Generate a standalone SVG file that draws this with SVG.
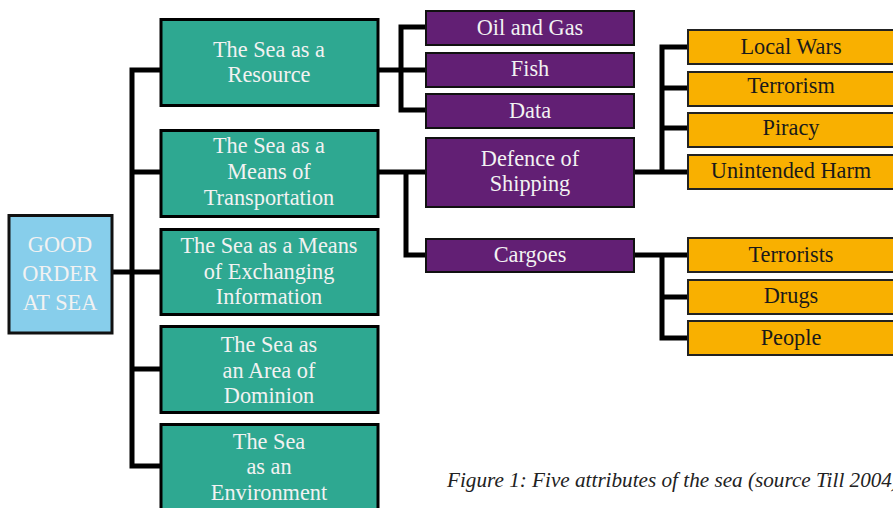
<svg xmlns="http://www.w3.org/2000/svg" width="893" height="508" viewBox="0 0 893 508">
<style>
.c{fill:none;stroke:#000;stroke-width:5;stroke-linecap:square}
.root{fill:#87CEEB;stroke:#111;stroke-width:3}
.g{fill:#2EA891;stroke:#000;stroke-width:3}
.p{fill:#621F74;stroke:#111;stroke-width:2}
.y{fill:#F9B000;stroke:#222;stroke-width:2}
text{font-family:"Liberation Serif","DejaVu Serif",serif;font-size:22.3px;text-anchor:middle}
.lt{fill:#F2F2F2}
.dk{fill:#1a1a1a}
.cap{font-style:italic;font-size:20.5px;text-anchor:start;fill:#222}
</style>
<rect width="893" height="508" fill="#fff"/>
<g id="connectors">
<path class="c" d="M112 272H132M132 70V466M132 70H160M132 172H160M132 272H160M132 369H160M132 466H160"/>
<path class="c" d="M379 70H401M401 27V110M401 27H425M401 70H425M401 110H425"/>
<path class="c" d="M379 172H425M406 172V255H425"/>
<path class="c" d="M634 172H662M662 47V172M662 47H687M662 88H687M662 128H687M662 172H687"/>
<path class="c" d="M634 255H662M662 255V338M662 255H687M662 297H687M662 338H687"/>
</g>
<g id="good-order">
<rect class="root" x="9" y="215.5" width="103" height="117.5"/>
<text class="lt" x="60" y="252">GOOD</text>
<text class="lt" x="60" y="281">ORDER</text>
<text class="lt" x="60" y="310">AT SEA</text>
</g>
<g id="resource">
<rect class="g" x="161" y="19.5" width="217" height="86"/>
<text class="lt" x="269" y="57">The Sea as a</text>
<text class="lt" x="269" y="82">Resource</text>
</g>
<g id="transportation">
<rect class="g" x="161" y="130.5" width="217" height="86"/>
<text class="lt" x="269" y="153">The Sea as a</text>
<text class="lt" x="269" y="179">Means of</text>
<text class="lt" x="269" y="205">Transportation</text>
</g>
<g id="information">
<rect class="g" x="161" y="229.5" width="217" height="85"/>
<text class="lt" x="269" y="253">The Sea as a Means</text>
<text class="lt" x="269" y="279">of Exchanging</text>
<text class="lt" x="269" y="304">Information</text>
</g>
<g id="dominion">
<rect class="g" x="161" y="326.5" width="217" height="86"/>
<text class="lt" x="269" y="352">The Sea as</text>
<text class="lt" x="269" y="378">an Area of</text>
<text class="lt" x="269" y="403">Dominion</text>
</g>
<g id="environment">
<rect class="g" x="161" y="424.5" width="217" height="90"/>
<text class="lt" x="269" y="449">The Sea</text>
<text class="lt" x="269" y="474">as an</text>
<text class="lt" x="269" y="500">Environment</text>
</g>
<g id="oil-gas">
<rect class="p" x="426" y="11" width="208" height="34"/>
<text class="lt" x="530" y="35">Oil and Gas</text>
</g>
<g id="fish">
<rect class="p" x="426" y="53" width="208" height="34"/>
<text class="lt" x="530" y="76">Fish</text>
</g>
<g id="data">
<rect class="p" x="426" y="94" width="208" height="34"/>
<text class="lt" x="530" y="118">Data</text>
</g>
<g id="defence">
<rect class="p" x="426" y="138" width="208" height="69"/>
<text class="lt" x="530" y="166">Defence of</text>
<text class="lt" x="530" y="191">Shipping</text>
</g>
<g id="cargoes">
<rect class="p" x="426" y="239" width="208" height="33"/>
<text class="lt" x="530" y="262">Cargoes</text>
</g>
<g id="local-wars">
<rect class="y" x="688" y="30" width="215" height="34"/>
<text class="dk" x="791" y="54">Local Wars</text>
</g>
<g id="terrorism">
<rect class="y" x="688" y="72" width="215" height="34"/>
<text class="dk" x="791" y="93">Terrorism</text>
</g>
<g id="piracy">
<rect class="y" x="688" y="113" width="215" height="34"/>
<text class="dk" x="791" y="135">Piracy</text>
</g>
<g id="unintended-harm">
<rect class="y" x="688" y="155" width="215" height="34"/>
<text class="dk" x="791" y="178">Unintended Harm</text>
</g>
<g id="terrorists">
<rect class="y" x="688" y="238" width="215" height="34"/>
<text class="dk" x="791" y="262">Terrorists</text>
</g>
<g id="drugs">
<rect class="y" x="688" y="280" width="215" height="34"/>
<text class="dk" x="791" y="303">Drugs</text>
</g>
<g id="people">
<rect class="y" x="688" y="321" width="215" height="34"/>
<text class="dk" x="791" y="345">People</text>
</g>
<text class="cap" x="447" y="487" textLength="452" lengthAdjust="spacingAndGlyphs">Figure 1: Five attributes of the sea (source Till 2004)</text>
</svg>
